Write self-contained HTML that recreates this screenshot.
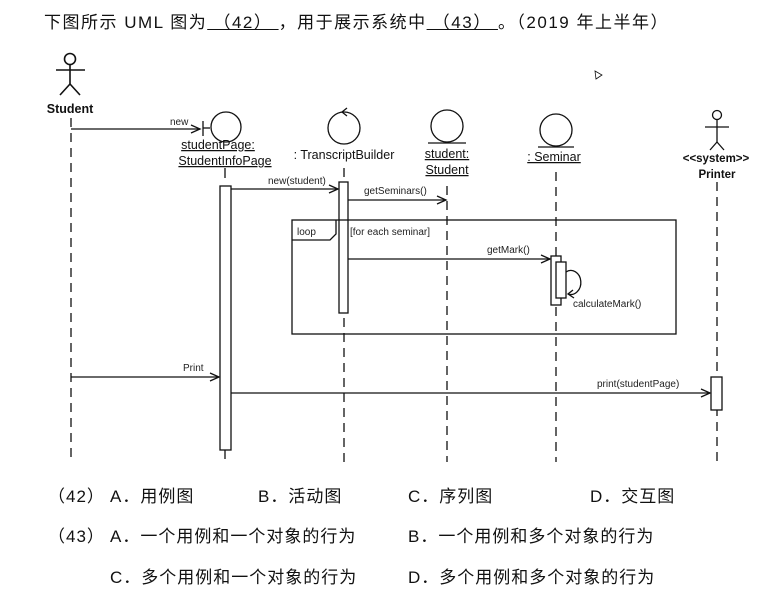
<!DOCTYPE html>
<html><head><meta charset="utf-8"><style>
body{margin:0;background:#fff;width:768px;height:597px;overflow:hidden;position:relative;font-family:"Liberation Sans","Noto Sans CJK SC",sans-serif;color:#111}
.t{position:absolute;font-size:17px;white-space:nowrap;letter-spacing:1px}
svg{position:absolute;left:0;top:0}
</style></head><body>
<div class="t" style="left:44px;top:8px;letter-spacing:1.5px">下图所示 UML 图为<u>&nbsp;（42）&nbsp;</u>，用于展示系统中<u>&nbsp;（43）&nbsp;</u>。（2019 年上半年）</div>
<svg width="768" height="597" font-family="Liberation Sans, sans-serif">
<g stroke="#111" stroke-width="1.3" fill="none">
<circle cx="70" cy="59" r="5.5" stroke-width="1.6"/><line x1="70" y1="64" x2="70" y2="84" stroke-width="1.6"/><line x1="56" y1="70" x2="85" y2="70" stroke-width="1.6"/><line x1="70" y1="84" x2="60" y2="95" stroke-width="1.6"/><line x1="70" y1="84" x2="80" y2="95" stroke-width="1.6"/>
<line x1="71" y1="118" x2="71" y2="462" stroke-dasharray="9,6"/>
<line x1="203" y1="121" x2="203" y2="136"/><line x1="203" y1="128" x2="210" y2="128"/><circle cx="226" cy="127" r="15"/>
<line x1="225" y1="168" x2="225" y2="178"/><line x1="225" y1="450" x2="225" y2="462" stroke-dasharray="9,6"/>
<rect x="220" y="186" width="11" height="264" fill="#fff"/>
<circle cx="344" cy="128" r="16"/><polyline points="347,108 342,112 347,116"/>
<line x1="344" y1="168" x2="344" y2="462" stroke-dasharray="9,6"/>
<rect x="339" y="182" width="9" height="131" fill="#fff"/>
<circle cx="447" cy="126" r="16"/><line x1="428" y1="143" x2="466" y2="143"/>
<line x1="447" y1="186" x2="447" y2="462" stroke-dasharray="9,6"/>
<circle cx="556" cy="130" r="16"/><line x1="538" y1="147" x2="574" y2="147"/>
<line x1="556" y1="172" x2="556" y2="462" stroke-dasharray="9,6"/>
<circle cx="717" cy="115" r="4.5"/><line x1="717" y1="120" x2="717" y2="142"/><line x1="705" y1="127" x2="729" y2="127"/><line x1="717" y1="142" x2="710" y2="150"/><line x1="717" y1="142" x2="724" y2="150"/>
<line x1="717" y1="182" x2="717" y2="462" stroke-dasharray="9,6"/>
<rect x="711" y="377" width="11" height="33" fill="#fff"/>
<rect x="292" y="220" width="384" height="114"/><polyline points="292,240 330,240 336,234 336,220"/>
<line x1="71" y1="129" x2="200" y2="129"/><polyline points="191,125 200,129 191,133"/>
<line x1="231" y1="189" x2="338" y2="189"/><polyline points="329,185 338,189 329,193"/>
<line x1="348" y1="200" x2="446" y2="200"/><polyline points="437,196 446,200 437,204"/>
<line x1="348" y1="259" x2="550" y2="259"/><polyline points="541,255 550,259 541,263"/>
<rect x="551" y="256" width="10" height="49" fill="#fff"/><rect x="556" y="262" width="10" height="36" fill="#fff"/>
<path d="M566,272 A10,12 0 1 1 568,294"/><polyline points="573,290 568,294 574,298"/>
<line x1="71" y1="377" x2="219" y2="377"/><polyline points="210,373 219,377 210,381"/>
<line x1="231" y1="393" x2="710" y2="393"/><polyline points="701,389 710,393 701,397"/>
<polygon points="595,71 602,75 596,79" stroke-width="0.8"/>
</g>
<g fill="#222" font-size="10">
<text x="170" y="125">new</text><text x="268" y="184">new(student)</text><text x="364" y="194">getSeminars()</text>
<text x="297" y="235">loop</text><text x="350" y="235">[for each seminar]</text><text x="487" y="253">getMark()</text>
<text x="573" y="307">calculateMark()</text><text x="183" y="371">Print</text><text x="597" y="387">print(studentPage)</text>
</g>
<g fill="#111" font-size="12.5" text-anchor="middle">
<text x="70" y="113" font-weight="bold">Student</text>
<text x="218" y="149" text-decoration="underline">studentPage:</text>
<text x="225" y="165" text-decoration="underline">StudentInfoPage</text>
<text x="344" y="159">: TranscriptBuilder</text>
<text x="447" y="158" text-decoration="underline">student:</text><text x="447" y="174" text-decoration="underline">Student</text>
<text x="554" y="161" text-decoration="underline">: Seminar</text>
<text x="716" y="162" font-weight="bold" font-size="11.5">&lt;&lt;system&gt;&gt;</text><text x="717" y="178" font-weight="bold" font-size="11.5">Printer</text>
</g>
</svg>
<div class="t" style="left:48px;top:482px">（42）</div>
<div class="t" style="left:110px;top:482px">A．用例图</div>
<div class="t" style="left:258px;top:482px">B．活动图</div>
<div class="t" style="left:408px;top:482px">C．序列图</div>
<div class="t" style="left:590px;top:482px">D．交互图</div>
<div class="t" style="left:48px;top:522px">（43）</div>
<div class="t" style="left:110px;top:522px">A．一个用例和一个对象的行为</div>
<div class="t" style="left:408px;top:522px">B．一个用例和多个对象的行为</div>
<div class="t" style="left:110px;top:563px">C．多个用例和一个对象的行为</div>
<div class="t" style="left:408px;top:563px">D．多个用例和多个对象的行为</div>
</body></html>
